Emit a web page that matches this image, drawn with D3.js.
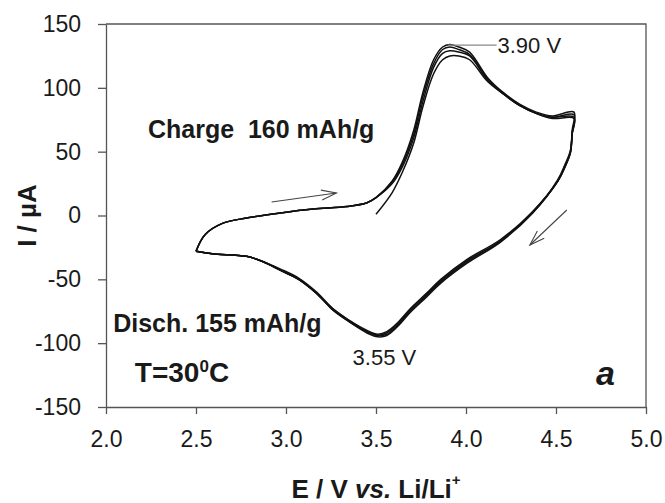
<!DOCTYPE html>
<html>
<head>
<meta charset="utf-8">
<script src="https://cdn.jsdelivr.net/npm/d3@7"></script>
<style>
  body { margin: 0; background: #fff; }
  svg { font-family: "Liberation Sans", Arial, sans-serif; }
  .axis text { font-family: "Liberation Sans", Arial, sans-serif; font-size: 23px; fill: #1a1a1a; }
  .axis path, .axis line { stroke: #555; stroke-width: 1.3; }
</style>
</head>
<body>
<svg width="665" height="503"></svg>
<script>
// tick values
const xTicks = [2.0, 2.5, 3.0, 3.5, 4.0, 4.5, 5.0];
const yTicks = [-150, -100, -50, 0, 50, 100, 150];

// anodic sweep (2.5 -> 4.6 V), current in uA for each cycle
const anodicV = [2.50, 2.55, 2.65, 2.78, 2.97, 3.15, 3.34, 3.45, 3.50, 3.59, 3.65, 3.71,
  3.76, 3.82, 3.87, 3.91, 3.96, 4.02, 4.12, 4.21, 4.30, 4.39, 4.48, 4.60];
const anodic1 = [null, null, null, null, null, null, null, null, 1, 18, 35, 57,
  85, 111, 122, 125, 125, 122, 105, 95, 86, 80, 76, 76];
const anodic2 = [-28, -15, -6, -2, 2, 5, 7, 10, 14, 27, 43, 67,
  96, 122, 132, 134, 132, 128, 108, 96, 87, 81, 78, 81];
const anodic3 = [-28, -15, -6, -2, 2, 5, 7, 10, 14, 26, 41, 64,
  93, 119, 130, 132, 130, 126, 107, 95, 86, 80, 77, 79];
const anodic4 = [-28, -15, -6, -2, 2, 5, 7, 10, 14, 25, 39, 61,
  89, 116, 127, 129, 128, 125, 106, 95, 86, 80, 77, 77];

// cathodic sweep (4.6 -> 2.5 V)
const cathodicV = [4.59, 4.58, 4.55, 4.51, 4.37, 4.19, 4.01, 3.86, 3.78, 3.69, 3.62, 3.56,
  3.51, 3.45, 3.36, 3.26, 3.17, 3.07, 2.97, 2.87, 2.78, 2.59, 2.50];
const cathodic1 = [64, 49, 38, 27, 3, -19, -34, -50, -61, -73, -84, -91,
  -93, -90, -83, -73, -60, -49, -42, -36, -32, -30, -28];
const cathodic2 = [67, 51, 40, 28, 2, -21, -37, -53, -64, -76, -87, -94,
  -95, -92, -84, -74, -61, -50, -43, -36, -32, -30, -28];
const cathodic3 = [65, 50, 39, 27, 3, -20, -35, -51, -62, -74, -85, -92,
  -94, -91, -83, -73, -61, -50, -43, -36, -32, -30, -28];
const cathodic4 = [64, 49, 38, 27, 2, -20, -36, -52, -63, -75, -86, -93,
  -94, -91, -84, -74, -61, -50, -43, -36, -32, -30, -28];

const anodicSets = [anodic1, anodic2, anodic3, anodic4];
const cathodicSets = [cathodic1, cathodic2, cathodic3, cathodic4];

const svg = d3.select("svg");
const width = +svg.attr("width");
const height = +svg.attr("height");
const margin = { top: 24, right: 19, bottom: 96, left: 106 };
const innerWidth = width - margin.left - margin.right;
const innerHeight = height - margin.top - margin.bottom;

const xScale = d3.scaleLinear().domain([2.0, 5.0]).range([0, innerWidth]);
const yScale = d3.scaleLinear().domain([-150, 150]).range([innerHeight, 0]);

const g = svg.append("g")
  .attr("transform", `translate(${margin.left}, ${margin.top})`);

// frame top + right
g.append("path")
  .attr("d", `M0,0H${innerWidth}V${innerHeight}`)
  .attr("fill", "none")
  .attr("stroke", "#555")
  .attr("stroke-width", 1.3);

const xAxis = d3.axisBottom(xScale)
  .tickValues(xTicks)
  .tickFormat(d3.format(".1f"))
  .tickSize(7)
  .tickSizeOuter(0)
  .tickPadding(17);

g.append("g")
  .attr("class", "axis")
  .attr("transform", `translate(0, ${innerHeight})`)
  .call(xAxis);

// plain hyphen for negatives, as in the original figure
const yAxis = d3.axisLeft(yScale)
  .tickValues(yTicks)
  .tickFormat((d) => String(d))
  .tickSize(8)
  .tickSizeOuter(0)
  .tickPadding(17);

g.append("g").attr("class", "axis").call(yAxis);

// axis titles
const xTitle = svg.append("text")
  .attr("x", margin.left + innerWidth / 2)
  .attr("y", 498)
  .attr("text-anchor", "middle")
  .attr("font-size", 26)
  .attr("font-weight", "bold")
  .attr("fill", "#1a1a1a");
xTitle.append("tspan").text("E / V ");
xTitle.append("tspan").attr("font-style", "italic").text("vs.");
xTitle.append("tspan").text(" Li/Li");
xTitle.append("tspan").attr("dy", -13).attr("font-size", 15).text("+");

svg.append("text")
  .attr("transform", `translate(36, ${margin.top + innerHeight / 2}) rotate(-90)`)
  .attr("text-anchor", "middle")
  .attr("font-size", 26)
  .attr("font-weight", "bold")
  .attr("fill", "#1a1a1a")
  .text("I / \u00b5A");

// CV cycles
const line = d3.line()
  .defined((d) => d[1] != null)
  .x((d) => xScale(d[0]))
  .y((d) => yScale(d[1]))
  .curve(d3.curveCatmullRom.alpha(0.5));

const cycles = anodicSets.map((a, i) => {
  const pts = anodicV.map((v, j) => [v, a[j]]).filter((d) => d[1] != null);
  cathodicV.forEach((v, j) => pts.push([v, cathodicSets[i][j]]));
  return pts;
});

g.selectAll(".cycle")
  .data(cycles)
  .enter()
  .append("path")
  .attr("class", "cycle")
  .attr("d", line)
  .attr("fill", "none")
  .attr("stroke", "#111")
  .attr("stroke-width", 1.5);

// peak labels
g.append("line")
  .attr("x1", xScale(3.90)).attr("y1", yScale(133.5))
  .attr("x2", xScale(4.17)).attr("y2", yScale(133.5))
  .attr("stroke", "#888")
  .attr("stroke-width", 1.2);

g.append("text")
  .attr("x", xScale(4.175)).attr("y", yScale(127))
  .attr("font-size", 22).attr("fill", "#1a1a1a")
  .text("3.90 V");

g.append("text")
  .attr("x", xScale(3.37)).attr("y", yScale(-117))
  .attr("font-size", 22).attr("fill", "#1a1a1a")
  .text("3.55 V");

// sweep arrows
svg.append("defs").append("marker")
  .attr("id", "head")
  .attr("markerUnits", "userSpaceOnUse")
  .attr("viewBox", "-16 -8 18 16")
  .attr("refX", 0).attr("refY", 0)
  .attr("markerWidth", 18).attr("markerHeight", 16)
  .attr("orient", "auto")
  .append("path")
  .attr("d", "M-15,-5L0,0L-15,5")
  .attr("fill", "none")
  .attr("stroke", "#444")
  .attr("stroke-width", 1.1);

const arrows = [
  [[2.92, 10.6], [3.28, 17.6]],
  [[4.56, 4.3], [4.355, -23.1]]
];
g.selectAll(".arrow")
  .data(arrows)
  .enter()
  .append("line")
  .attr("class", "arrow")
  .attr("x1", (d) => xScale(d[0][0])).attr("y1", (d) => yScale(d[0][1]))
  .attr("x2", (d) => xScale(d[1][0])).attr("y2", (d) => yScale(d[1][1]))
  .attr("stroke", "#444")
  .attr("stroke-width", 1.1)
  .attr("marker-end", "url(#head)");

// annotations
g.append("text")
  .attr("x", xScale(2.233)).attr("y", yScale(60.5))
  .attr("font-size", 25).attr("font-weight", "bold").attr("fill", "#1a1a1a")
  .style("white-space", "pre")
  .text("Charge  160 mAh/g");

g.append("text")
  .attr("x", xScale(2.04)).attr("y", yScale(-91))
  .attr("font-size", 25).attr("font-weight", "bold").attr("fill", "#1a1a1a")
  .text("Disch. 155 mAh/g");

const tLabel = g.append("text")
  .attr("x", xScale(2.16)).attr("y", yScale(-130.5))
  .attr("font-size", 28).attr("font-weight", "bold").attr("fill", "#1a1a1a");
tLabel.append("tspan").text("T=30");
tLabel.append("tspan").attr("dy", -10).attr("font-size", 17).text("0");
tLabel.append("tspan").attr("dy", 10).text("C");

g.append("text")
  .attr("x", xScale(4.722)).attr("y", yScale(-133))
  .attr("font-size", 34).attr("font-weight", "bold").attr("font-style", "italic")
  .attr("fill", "#1a1a1a")
  .text("a");
</script>
</body>
</html>
